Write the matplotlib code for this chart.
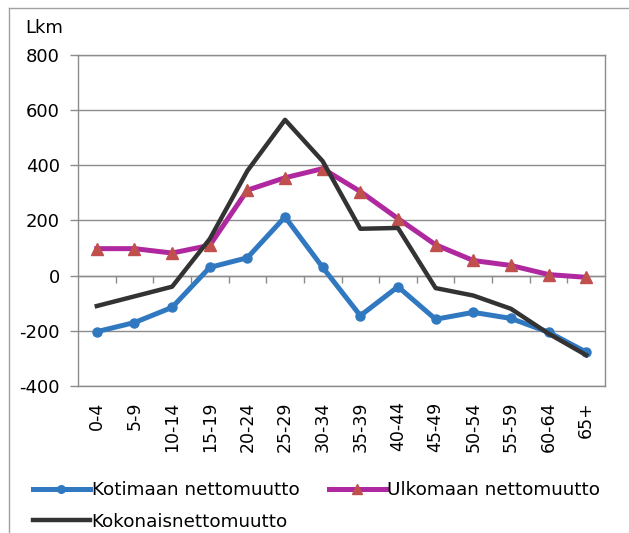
import matplotlib
matplotlib.use("Agg")
import matplotlib.pyplot as plt
from matplotlib.lines import Line2D

plt.rcParams['font.family'] = ['DejaVu Sans']

categories = ["0-4", "5-9", "10-14", "15-19", "20-24", "25-29", "30-34",
              "35-39", "40-44", "45-49", "50-54", "55-59", "60-64", "65+"]
kotimaan = [-203, -170, -115, 30, 65, 213, 30, -145, -40, -158, -133, -155, -205, -277]
ulkomaan = [98, 98, 82, 110, 310, 355, 388, 305, 207, 112, 55, 37, 4, -6]
kokonais = [-110, -75, -40, 133, 380, 565, 415, 170, 173, -45, -72, -120, -210, -288]
yticks = [-400, -200, 0, 200, 400, 600, 800]
labels = ["Kotimaan nettomuutto", "Ulkomaan nettomuutto", "Kokonaisnettomuutto"]

W, H = 629, 533
fig = plt.figure(figsize=(W / 100, H / 100), dpi=100)
ax = fig.add_axes([78 / W, 1 - 386 / H, (605 - 78) / W, (386 - 55) / H])

x = list(range(len(categories)))
blue = "#3079C0"
purple = "#B0289F"
tri = "#C0504D"
dark = "#333333"
grid = "#8C8C8C"

ax.plot(x, kotimaan, color=blue, lw=3.6, marker="o", ms=6.5, mfc=blue, mec=blue, zorder=3)
ax.plot(x, ulkomaan, color=purple, lw=3.6, marker="^", ms=8, mfc=tri, mec=tri, zorder=3)
ax.plot(x, kokonais, color=dark, lw=3.2, zorder=4)

ax.set_xlim(-0.5, len(categories) - 0.5)
ax.set_ylim(-400, 800)
ax.set_yticks(yticks)
ax.set_yticklabels([str(v) for v in yticks], fontsize=13)
ax.yaxis.grid(True, color=grid, lw=1)
ax.set_axisbelow(True)
ax.tick_params(axis="y", length=6, width=1, color=grid, pad=7)

ax.set_xticks(x)
ax.set_xticklabels(categories, rotation=90, fontsize=12.5)
ax.tick_params(axis="x", length=0, pad=11)

for s in ["left", "right", "bottom", "top"]:
    ax.spines[s].set_color(grid)
    ax.spines[s].set_linewidth(1)

# category axis crossing at zero with boundary ticks
sec = ax.secondary_xaxis(400 / 1200)
sec.set_xticks([i + 0.5 for i in range(len(categories) - 1)])
sec.set_xticklabels([])
sec.tick_params(axis="x", direction="out", length=5, width=1, color=grid)
sec.spines["bottom"].set_color(grid)
sec.spines["top"].set_visible(False)
sec.spines["bottom"].set_linewidth(1)

fig.text(25 / W, 1 - 28 / H, "Lkm", fontsize=13, va="center", ha="left")

h_koti = Line2D([], [], color=blue, lw=3.6, marker="o", ms=5.5, mfc=blue, mec=blue)
h_ulko = Line2D([], [], color=purple, lw=3.6, marker="^", ms=6.5, mfc=tri, mec=tri)
h_koko = Line2D([], [], color=dark, lw=3.2)
# column-major fill: col 1 = Kotimaan, Kokonais; col 2 = Ulkomaan
fig.legend([h_koti, h_koko, h_ulko], [labels[0], labels[2], labels[1]],
           loc="upper left", bbox_to_anchor=(33 / W, 1 - 481 / H),
           ncol=2, frameon=False, fontsize=13.2, handlelength=3.1, handletextpad=0.1,
           columnspacing=1.6, labelspacing=0.75, borderpad=0, borderaxespad=0)

# outer chart border
fig.add_artist(Line2D([9 / W, 9 / W], [0, 1 - 8 / H], color="#A0A0A0", lw=1, transform=fig.transFigure))
fig.add_artist(Line2D([9 / W, 1], [1 - 8 / H, 1 - 8 / H], color="#A0A0A0", lw=1, transform=fig.transFigure))

fig.savefig("out.png", dpi=100)
